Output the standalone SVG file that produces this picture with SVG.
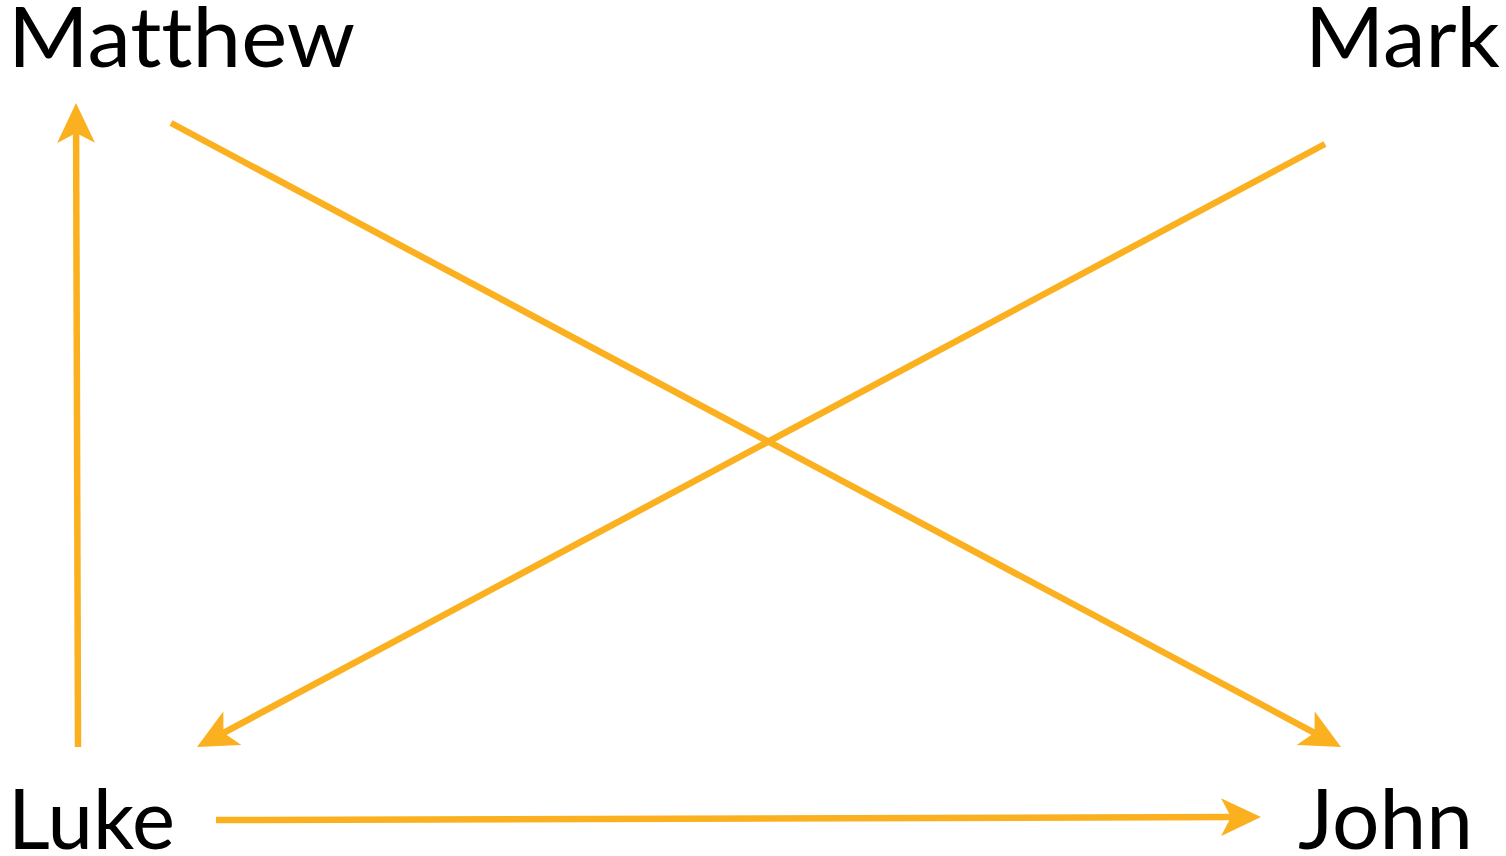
<svg xmlns="http://www.w3.org/2000/svg" width="1506" height="856" viewBox="0 0 1506 856">
<style>
.lbl{font-family:Lato,"Open Sans","Liberation Sans",sans-serif;font-size:83px;fill:#000;font-variant-ligatures:none;font-feature-settings:"liga" 0}
.con{stroke:#FBB020;stroke-width:6.5;fill:none;stroke-linecap:butt;marker-end:url(#ah)}
</style>
<defs>
<marker id="ah" markerUnits="userSpaceOnUse" viewBox="0 -19 40 38" markerWidth="40" markerHeight="38" refX="12" refY="0" orient="auto">
<path d="M0,-19 L40,0 L0,19 L10,0 Z" fill="#FBB020"/>
</marker>
</defs>
<rect width="1506" height="856" fill="#fff"/>
<g id="connectors">
<line class="con" x1="78" y1="747" x2="76.1" y2="131"/>
<line class="con" x1="171" y1="123" x2="1316.3" y2="733.8"/>
<line class="con" x1="1325" y1="144" x2="221.7" y2="733.8"/>
<line class="con" x1="216" y1="820" x2="1233" y2="817.1"/>
</g>
<g id="matthew"><text class="lbl" x="8" y="67" textLength="347" lengthAdjust="spacingAndGlyphs">Matthew</text></g>
<g id="mark"><text class="lbl" x="1305" y="67" textLength="195" lengthAdjust="spacingAndGlyphs">Mark</text></g>
<g id="luke"><text class="lbl" x="8" y="849" textLength="167" lengthAdjust="spacingAndGlyphs">Luke</text></g>
<g id="john"><text class="lbl" x="1298" y="849" textLength="175" lengthAdjust="spacingAndGlyphs">John</text></g>
</svg>
